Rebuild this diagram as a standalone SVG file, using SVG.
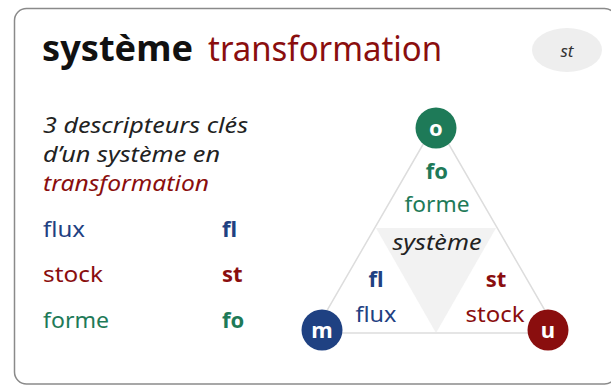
<svg xmlns="http://www.w3.org/2000/svg" width="611" height="385" viewBox="0 0 611 385">
  <style>
    text { font-family: "Noto Sans", "Liberation Sans", sans-serif; }
    .b { font-weight: bold; }
    .i { font-style: italic; }
    .g { fill: #1e7a58; }
    .bl { fill: #1f4182; }
    .r { fill: #8a0e0e; }
    .k { fill: #222222; }
    .lbl { font-size: 22px; }
    .ital { font-size: 21px; }
    .mid { text-anchor: middle; }
    .edge { stroke: #dddddd; stroke-width: 1.5; fill: none; }
    .node text { fill: #ffffff; font-weight: bold; font-size: 22px; text-anchor: middle; }
  </style>
  <rect x="14.5" y="8.5" width="602" height="375.5" rx="12" fill="#ffffff" stroke="#8a8a8a" stroke-width="1.5"/>

  <g id="title">
    <text x="42" y="61" font-size="35" class="b" fill="#111111" textLength="151" lengthAdjust="spacingAndGlyphs">système</text>
    <text x="208" y="61" font-size="35" class="r" textLength="234" lengthAdjust="spacingAndGlyphs">transformation</text>
  </g>

  <g id="badge">
    <ellipse cx="567" cy="50" rx="35" ry="22" fill="#eeeeee"/>
    <text x="567" y="57" font-size="17" class="i mid" fill="#333333">st</text>
  </g>

  <g id="legend">
    <text x="43" y="133" class="ital i k" textLength="205" lengthAdjust="spacingAndGlyphs">3 descripteurs clés</text>
    <text x="43" y="162" class="ital i k" textLength="177" lengthAdjust="spacingAndGlyphs">d’un système en</text>
    <text x="43" y="191" class="ital i r" textLength="166" lengthAdjust="spacingAndGlyphs">transformation</text>
    <text x="43" y="237" class="lbl bl" textLength="42" lengthAdjust="spacingAndGlyphs">flux</text>
    <text x="222" y="237" class="lbl b bl">fl</text>
    <text x="43" y="282" class="lbl r" textLength="60" lengthAdjust="spacingAndGlyphs">stock</text>
    <text x="222" y="282" class="lbl b r">st</text>
    <text x="43" y="328" class="lbl g" textLength="66" lengthAdjust="spacingAndGlyphs">forme</text>
    <text x="222" y="328" class="lbl b g">fo</text>
  </g>

  <g id="connectors">
    <polygon points="376,228 496,228 436,333" fill="#f2f2f2"/>
    <polygon class="edge" points="436,122 314,333 558,333"/>
  </g>

  <g id="labels">
    <text x="437" y="179" class="lbl b g mid">fo</text>
    <text x="437" y="212" class="lbl g mid" textLength="65" lengthAdjust="spacingAndGlyphs">forme</text>
    <text x="437" y="250" class="ital i k mid" textLength="89" lengthAdjust="spacingAndGlyphs">système</text>
    <text x="376" y="287" class="lbl b bl mid">fl</text>
    <text x="376" y="322" class="lbl bl mid" textLength="41" lengthAdjust="spacingAndGlyphs">flux</text>
    <text x="496" y="287" class="lbl b r mid">st</text>
    <text x="495" y="322" class="lbl r mid" textLength="59" lengthAdjust="spacingAndGlyphs">stock</text>
  </g>

  <g id="node-o" class="node">
    <circle cx="436" cy="128" r="20.5" fill="#1e7a58"/>
    <text x="436" y="135.5">o</text>
  </g>
  <g id="node-m" class="node">
    <circle cx="322" cy="330" r="20.5" fill="#1f4182"/>
    <text x="322" y="337.5">m</text>
  </g>
  <g id="node-u" class="node">
    <circle cx="548" cy="330" r="20.5" fill="#8a0e0e"/>
    <text x="548" y="337.5">u</text>
  </g>
</svg>
